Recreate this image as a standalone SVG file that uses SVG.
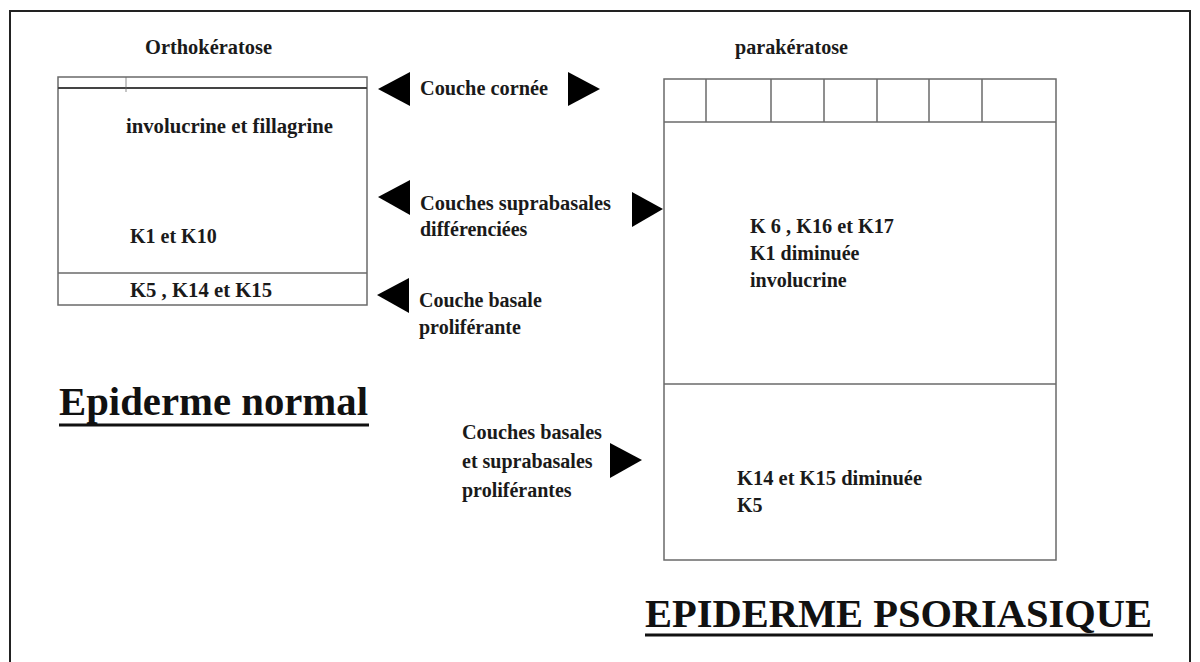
<svg xmlns="http://www.w3.org/2000/svg" width="1200" height="662" viewBox="0 0 1200 662">
<style>
  .t { font-family: "Liberation Serif", "Times New Roman", serif; font-weight: bold; font-size: 20px; fill: #1a1a1a; }
  .big { font-family: "Liberation Serif", "Times New Roman", serif; font-weight: bold; fill: #111; }
  .box { fill: none; stroke: #6a6a6a; stroke-width: 1.5; }
  .ln { stroke: #6a6a6a; stroke-width: 1.5; }
  .arr { fill: #000; }
</style>
<rect x="0" y="0" width="1200" height="662" fill="#fff"/>
<rect id="frame" x="10" y="11" width="1180" height="680" fill="none" stroke="#222" stroke-width="2"/>

<g id="normal-epidermis">
  <text class="t" x="145" y="54" textLength="127" lengthAdjust="spacingAndGlyphs">Orthokératose</text>
  <rect class="box" x="58" y="77" width="309" height="228"/>
  <line x1="58" y1="88" x2="367" y2="88" stroke="#444" stroke-width="2"/>
  <line class="ln" x1="126" y1="77" x2="126" y2="92" stroke-opacity="0.5"/>
  <line class="ln" x1="58" y1="273" x2="367" y2="273" stroke="#444"/>
  <text class="t" x="126" y="133" textLength="207" lengthAdjust="spacingAndGlyphs">involucrine et fillagrine</text>
  <text class="t" x="130" y="243">K1 et K10</text>
  <text class="t" x="130" y="297" textLength="142" lengthAdjust="spacingAndGlyphs">K5 , K14 et K15</text>
  <text class="big" x="59" y="415" font-size="40" textLength="309" lengthAdjust="spacingAndGlyphs">Epiderme normal</text>
  <rect x="59" y="423.5" width="310" height="3" fill="#111"/>
</g>

<g id="psoriatic-epidermis">
  <text class="t" x="735" y="54" textLength="113" lengthAdjust="spacingAndGlyphs">parakératose</text>
  <rect class="box" x="664" y="79" width="392" height="481"/>
  <line class="ln" x1="664" y1="122" x2="1056" y2="122"/>
  <line class="ln" x1="706" y1="79" x2="706" y2="122"/>
  <line class="ln" x1="771" y1="79" x2="771" y2="122"/>
  <line class="ln" x1="824" y1="79" x2="824" y2="122"/>
  <line class="ln" x1="877" y1="79" x2="877" y2="122"/>
  <line class="ln" x1="929" y1="79" x2="929" y2="122"/>
  <line class="ln" x1="982" y1="79" x2="982" y2="122"/>
  <line class="ln" x1="664" y1="384" x2="1056" y2="384"/>
  <text class="t" x="750" y="233" textLength="144" lengthAdjust="spacingAndGlyphs">K 6 , K16 et K17</text>
  <text class="t" x="750" y="260">K1 diminuée</text>
  <text class="t" x="750" y="287">involucrine</text>
  <text class="t" x="737" y="485" textLength="185" lengthAdjust="spacingAndGlyphs">K14 et K15 diminuée</text>
  <text class="t" x="737" y="512">K5</text>
  <text class="big" x="645" y="627" font-size="41" textLength="507" lengthAdjust="spacingAndGlyphs">EPIDERME PSORIASIQUE</text>
  <rect x="645" y="633.5" width="508" height="3" fill="#111"/>
</g>

<g id="layer-labels">
  <text class="t" x="420" y="95" textLength="128" lengthAdjust="spacingAndGlyphs">Couche cornée</text>
  <text class="t" x="420" y="210" textLength="191" lengthAdjust="spacingAndGlyphs">Couches suprabasales</text>
  <text class="t" x="420" y="236">différenciées</text>
  <text class="t" x="419" y="307">Couche basale</text>
  <text class="t" x="419" y="334">proliférante</text>
  <text class="t" x="462" y="439" textLength="140" lengthAdjust="spacingAndGlyphs">Couches basales</text>
  <text class="t" x="462" y="468">et suprabasales</text>
  <text class="t" x="462" y="497">proliférantes</text>
</g>

<g id="connectors">
  <polygon class="arr" points="378,89 410,72 410,106"/>
  <polygon class="arr" points="568,72 600,89 568,106"/>
  <polygon class="arr" points="378,197 410,180 410,215"/>
  <polygon class="arr" points="632,192 663,209 632,227"/>
  <polygon class="arr" points="377,295 409,278 409,313"/>
  <polygon class="arr" points="610,443 642,460 610,478"/>
</g>
</svg>
